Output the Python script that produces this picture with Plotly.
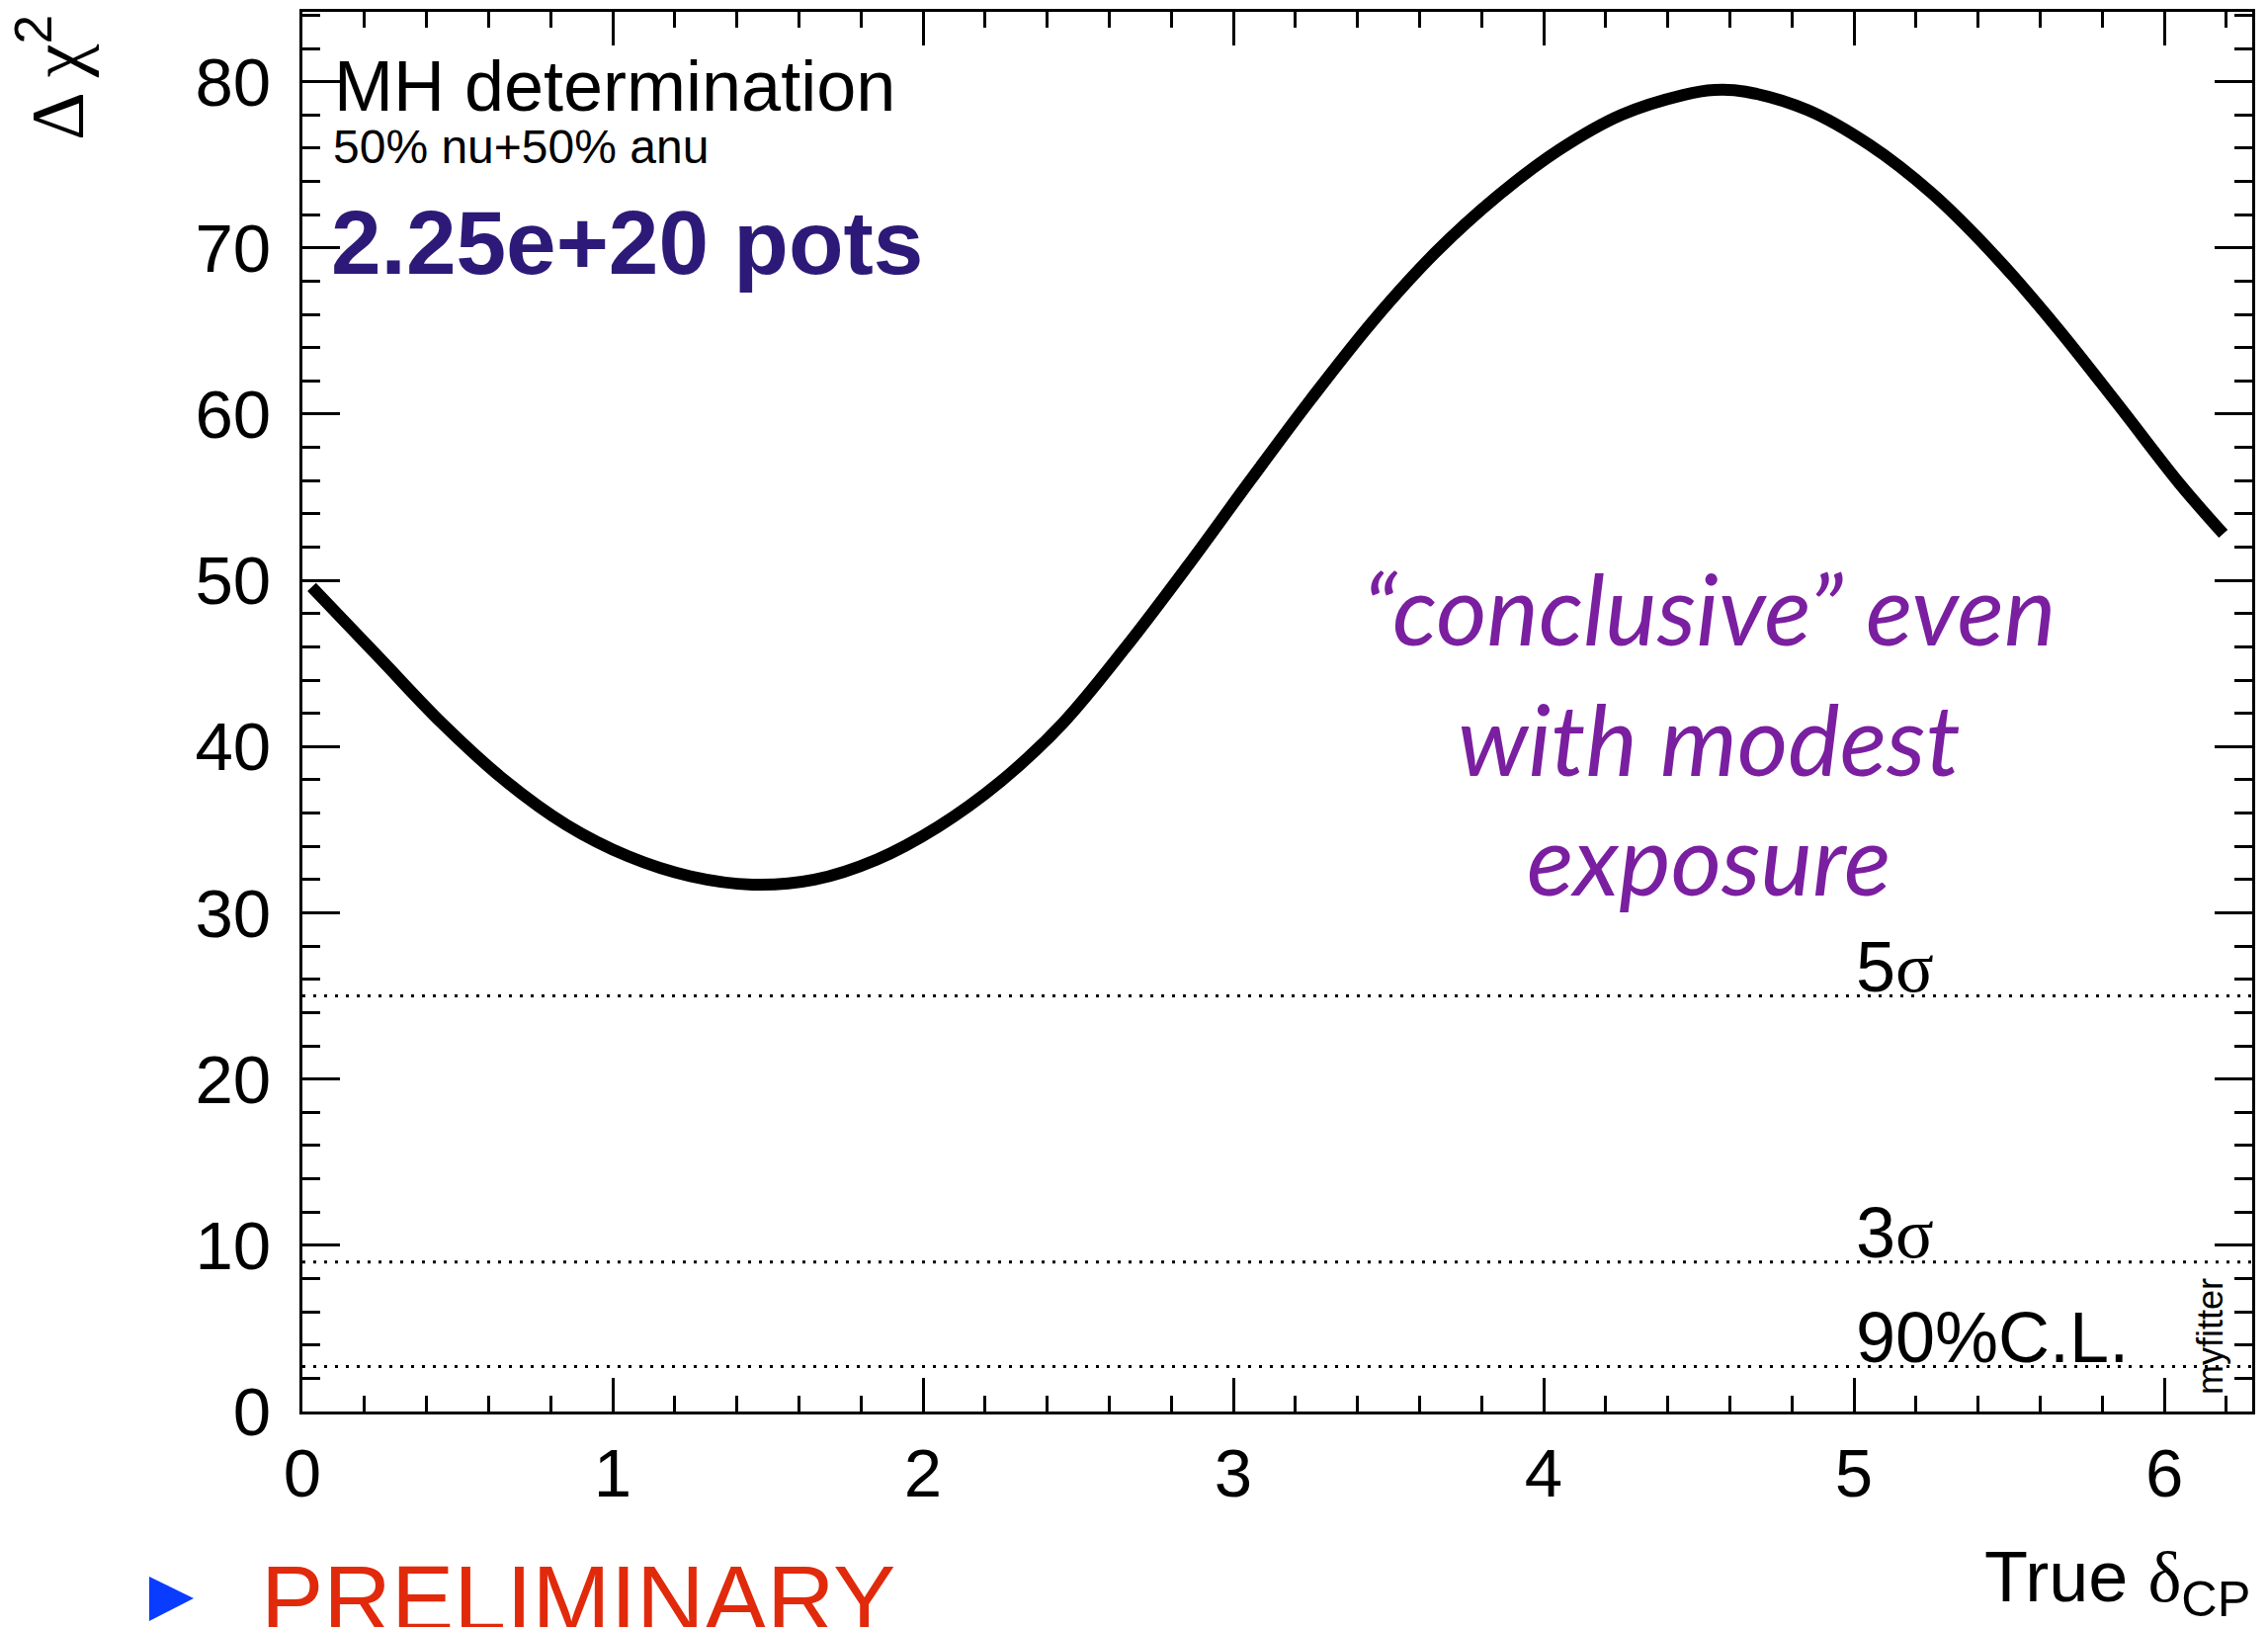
import math
import plotly.graph_objects as go

# ---------------- data ----------------
delta_cp = [0.03, 0.25, 0.45, 0.65, 0.85, 1.05, 1.25, 1.45, 1.65, 1.85, 2.05, 2.25,
            2.45, 2.65, 2.85, 3.05, 3.25, 3.45, 3.65, 3.85, 4.05, 4.25, 4.45, 4.55,
            4.65, 4.85, 5.05, 5.25, 5.45, 5.65, 5.85, 6.05, 6.19]
dchi2 = [49.6, 45.3, 41.4, 38.0, 35.3, 33.4, 32.2, 31.7, 32.0, 33.2, 35.2, 37.9,
         41.4, 45.9, 50.8, 55.9, 60.9, 65.6, 69.7, 73.1, 75.9, 78.0, 79.2, 79.5,
         79.4, 78.3, 76.2, 73.3, 69.6, 65.3, 60.6, 55.8, 52.8]
levels = [25.0, 9.0, 2.71]
level_labels = ["5<span style=\"font-family:'Liberation Serif'\">σ</span>",
                "3<span style=\"font-family:'Liberation Serif'\">σ</span>",
                "90%C.L."]
x_range = [0, 2 * math.pi]
y_range = [0, 84.2]
x_ticks = [0, 1, 2, 3, 4, 5, 6]
y_ticks = [0, 10, 20, 30, 40, 50, 60, 70, 80]

# ---------------- geometry ----------------
W, H = 2295, 1646
L, R, T, B = 306, 16, 12, 218
PW, PH = W - L - R, H - T - B
FONT = "Liberation Sans"


def pxx(xp):
    return (xp - L) / PW


def pyy(yp):
    return 1 - (yp - T) / PH


def bottom_from_baseline(baseline, size, desc=0.212):
    return pyy(baseline + desc * size + 1)


fig = go.Figure()

for lv in levels:
    fig.add_trace(go.Scatter(x=x_range, y=[lv, lv], mode="lines",
                             line=dict(color="black", width=3, dash="3px,8px"),
                             hoverinfo="skip", showlegend=False))

fig.add_trace(go.Scatter(x=delta_cp, y=dchi2, mode="lines",
                         line=dict(color="black", width=12, shape="spline", smoothing=1.0),
                         showlegend=False))

ann = []
for lv, lab in zip(levels, level_labels):
    ann.append(dict(x=5.0, y=lv, xref="x", yref="y", text=lab, showarrow=False,
                    xanchor="left", yanchor="bottom", yshift=-13,
                    font=dict(family=FONT, size=72, color="black")))

ann.append(dict(x=pxx(336), y=bottom_from_baseline(113, 72), xref="paper", yref="paper",
                text="MH determination", showarrow=False, xanchor="left", yanchor="bottom",
                font=dict(family=FONT, size=72, color="black")))
ann.append(dict(x=pxx(335), y=bottom_from_baseline(166, 48), xref="paper", yref="paper",
                text="50% nu+50% anu", showarrow=False, xanchor="left", yanchor="bottom",
                font=dict(family=FONT, size=48, color="black")))
ann.append(dict(x=pxx(333), y=bottom_from_baseline(278, 91), xref="paper", yref="paper",
                text="<b>2.25e+20 pots</b>", showarrow=False, xanchor="left", yanchor="bottom",
                font=dict(family=FONT, size=91, color="#2d1a78")))

purple = "#7a1fa0"
for txt, base in [("“conclusive” even", 654), ("with modest", 786), ("exposure", 907)]:
    ann.append(dict(x=pxx(1729), y=bottom_from_baseline(base, 99, 0.213), xref="paper", yref="paper",
                    text=txt, showarrow=False, xanchor="center", yanchor="bottom",
                    font=dict(family="Lato", size=99, color=purple, style="italic")))

ann.append(dict(x=pxx(2236), y=pyy(1352), xref="paper", yref="paper", text="myfitter",
                showarrow=False, textangle=-90, xanchor="center", yanchor="middle",
                font=dict(family=FONT, size=36, color="black")))

ann.append(dict(x=pxx(52), y=pyy(78), xref="paper", yref="paper",
                text="<span style=\"font-family:'Liberation Serif'\">Δ χ</span><sup>2</sup>",
                showarrow=False, textangle=-90, xanchor="center", yanchor="middle",
                font=dict(family=FONT, size=76, color="black")))

ann.append(dict(x=1.0, y=pyy(1600), xref="paper", yref="paper",
                text="True <span style=\"font-family:'Liberation Serif'\">δ</span><sub>CP</sub>",
                showarrow=False, xanchor="right", yanchor="middle",
                font=dict(family=FONT, size=72, color="black")))

ann.append(dict(x=pxx(262), y=bottom_from_baseline(1651, 95), xref="paper", yref="paper",
                text="PRELIMINARY", showarrow=False, xanchor="left", yanchor="bottom",
                font=dict(family=FONT, size=95, color="#e12a0b")))

shapes = [dict(type="path", xref="paper", yref="paper",
               path=f"M {pxx(151)} {pyy(1595)} L {pxx(151)} {pyy(1640)} L {pxx(196)} {pyy(1617)} Z",
               fillcolor="#0a3cff", line=dict(width=0))]

axis_common = dict(showgrid=False, zeroline=False, ticks="inside", mirror="ticks",
                   showline=True, linecolor="black", linewidth=3, tickwidth=3,
                   tickcolor="black", tickfont=dict(family=FONT, size=69, color="black"))

fig.update_layout(
    width=W, height=H, margin=dict(l=L, r=R, t=T, b=B, autoexpand=False),
    paper_bgcolor="white", plot_bgcolor="white", showlegend=False,
    xaxis=dict(range=x_range, tickvals=x_ticks, ticklen=34, ticklabelstandoff=0,
               minor=dict(dtick=0.2, ticklen=16, tickwidth=3, ticks="inside", tickcolor="black",
                          showgrid=False),
               **axis_common),
    yaxis=dict(range=y_range, tickvals=y_ticks, ticklen=38, ticklabelstandoff=15,
               minor=dict(dtick=2, ticklen=18, tickwidth=3, ticks="inside", tickcolor="black",
                          showgrid=False),
               **axis_common),
    annotations=ann, shapes=shapes,
)

fig.write_html("out.html")
